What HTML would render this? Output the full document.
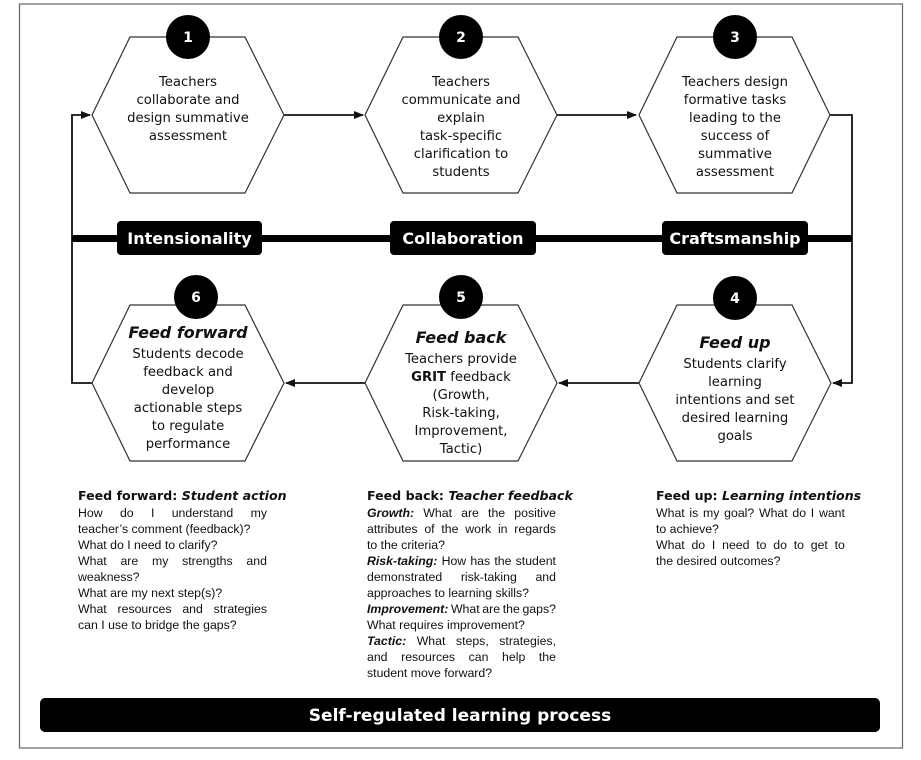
<!DOCTYPE html>
<html><head><meta charset="utf-8"><style>
html,body{margin:0;padding:0;background:#fff;}
body{position:relative;width:921px;height:760px;overflow:hidden}
svg{display:block;font-family:"DejaVu Sans","Liberation Sans",sans-serif;}
.h{fill:#fff;stroke:#333;stroke-width:1.2}
.t{font-size:13.2px;fill:#111;text-anchor:middle}
.n{font-size:14px;fill:#fff;font-weight:bold;text-anchor:middle}
.lb{font-size:16px;fill:#fff;font-weight:bold;text-anchor:middle}
.blk{position:absolute;width:189px;font-family:"Liberation Sans",sans-serif;font-size:12.3px;line-height:16px;color:#111}
.blk .hd{font-family:"DejaVu Sans",sans-serif;font-size:12.6px;font-weight:bold;line-height:16px;white-space:nowrap;margin-bottom:1px}
.blk div{white-space:nowrap}
.blk .j{display:flex;justify-content:space-between}
.bi{font-weight:bold;font-style:italic}
</style></head><body>
<svg width="921" height="760" viewBox="0 0 921 760">
<defs><marker id="a" markerWidth="10" markerHeight="8" refX="9" refY="4" orient="auto" markerUnits="userSpaceOnUse"><path d="M0,0 L10,4 L0,8 Z" fill="#111"/></marker></defs>
<rect x="19.5" y="4" width="883" height="744" fill="#fff" stroke="#666" stroke-width="1.2"/>
<g stroke="#111" stroke-width="1.8" fill="none">
<polyline points="92,383 72,383 72,115 90,115" marker-end="url(#a)"/>
<line x1="284" y1="115" x2="363" y2="115" marker-end="url(#a)"/>
<line x1="557" y1="115" x2="636" y2="115" marker-end="url(#a)"/>
<polyline points="830,115 852,115 852,383 833,383" marker-end="url(#a)"/>
<line x1="639" y1="383" x2="559" y2="383" marker-end="url(#a)"/>
<line x1="365" y1="383" x2="286" y2="383" marker-end="url(#a)"/>
</g>
<rect x="72" y="235" width="780" height="7" fill="#000"/>
<rect x="117" y="221" width="145" height="34" rx="4" fill="#000"/>
<text class="lb" x="189.5" y="244">Intensionality</text>
<rect x="390" y="221" width="146" height="34" rx="4" fill="#000"/>
<text class="lb" x="463" y="244">Collaboration</text>
<rect x="662" y="221" width="146" height="34" rx="4" fill="#000"/>
<text class="lb" x="735" y="244">Craftsmanship</text>
<polygon class="h" points="130,37 245,37 284,115 245,193 130,193 92,115"/>
<polygon class="h" points="403,37 518,37 557,115 518,193 403,193 365,115"/>
<polygon class="h" points="677,37 792,37 830,115 792,193 677,193 639,115"/>
<polygon class="h" points="130,305 245,305 284,383 245,461 130,461 92,383"/>
<polygon class="h" points="403,305 518,305 557,383 518,461 403,461 365,383"/>
<polygon class="h" points="677,305 792,305 831,383 792,461 677,461 639,383"/>
<g fill="#000">
<circle cx="188" cy="37" r="22"/><circle cx="461" cy="37" r="22"/><circle cx="735" cy="37" r="22"/>
<circle cx="196" cy="297" r="22"/><circle cx="461" cy="297" r="22"/><circle cx="735" cy="298" r="22"/>
</g>
<text class="n" x="188" y="42">1</text><text class="n" x="461" y="42">2</text><text class="n" x="735" y="42">3</text>
<text class="n" x="196" y="302">6</text><text class="n" x="461" y="302">5</text><text class="n" x="735" y="303">4</text>
<text class="t" x="188" y="86">Teachers</text>
<text class="t" x="188" y="104">collaborate and</text>
<text class="t" x="188" y="122">design summative</text>
<text class="t" x="188" y="140">assessment</text>
<text class="t" x="461" y="86">Teachers</text>
<text class="t" x="461" y="104">communicate and</text>
<text class="t" x="461" y="122">explain</text>
<text class="t" x="461" y="140">task-specific</text>
<text class="t" x="461" y="158">clarification to</text>
<text class="t" x="461" y="176">students</text>
<text class="t" x="735" y="86">Teachers design</text>
<text class="t" x="735" y="104">formative tasks</text>
<text class="t" x="735" y="122">leading to the</text>
<text class="t" x="735" y="140">success of</text>
<text class="t" x="735" y="158">summative</text>
<text class="t" x="735" y="176">assessment</text>
<text class="t" x="188" y="338" style="font-size:16px;font-weight:bold;font-style:italic">Feed forward</text>
<text class="t" x="188" y="358">Students decode</text>
<text class="t" x="188" y="376">feedback and</text>
<text class="t" x="188" y="394">develop</text>
<text class="t" x="188" y="412">actionable steps</text>
<text class="t" x="188" y="430">to regulate</text>
<text class="t" x="188" y="448">performance</text>
<text class="t" x="461" y="343" style="font-size:16px;font-weight:bold;font-style:italic">Feed back</text>
<text class="t" x="461" y="363">Teachers provide</text>
<text class="t" x="461" y="381"><tspan font-weight="bold">GRIT</tspan> feedback</text>
<text class="t" x="461" y="399">(Growth,</text>
<text class="t" x="461" y="417">Risk-taking,</text>
<text class="t" x="461" y="435">Improvement,</text>
<text class="t" x="461" y="453">Tactic)</text>
<text class="t" x="735" y="348" style="font-size:16px;font-weight:bold;font-style:italic">Feed up</text>
<text class="t" x="735" y="368">Students clarify</text>
<text class="t" x="735" y="386">learning</text>
<text class="t" x="735" y="404">intentions and set</text>
<text class="t" x="735" y="422">desired learning</text>
<text class="t" x="735" y="440">goals</text>
<rect x="40" y="698" width="840" height="34" rx="5" fill="#000"/>
<text x="460" y="721" text-anchor="middle" style="font-size:17px;font-weight:bold;fill:#fff">Self-regulated learning process</text>
</svg>
<div class="blk" style="left:78px;top:488px">
<div class="hd">Feed forward: <i>Student action</i></div>
<div class="j"><span>How</span><span>do</span><span>I</span><span>understand</span><span>my</span></div>
<div>teacher’s comment (feedback)?</div>
<div>What do I need to clarify?</div>
<div class="j"><span>What</span><span>are</span><span>my</span><span>strengths</span><span>and</span></div>
<div>weakness?</div>
<div>What are my next step(s)?</div>
<div class="j"><span>What</span><span>resources</span><span>and</span><span>strategies</span></div>
<div>can I use to bridge the gaps?</div>
</div>
<div class="blk" style="left:367px;top:488px">
<div class="hd">Feed back: <i>Teacher feedback</i></div>
<div class="j"><span class="bi">Growth:</span><span>What</span><span>are</span><span>the</span><span>positive</span></div>
<div class="j"><span>attributes</span><span>of</span><span>the</span><span>work</span><span>in</span><span>regards</span></div>
<div>to the criteria?</div>
<div class="j"><span class="bi">Risk-taking:</span><span>How</span><span>has</span><span>the</span><span>student</span></div>
<div class="j"><span>demonstrated</span><span>risk-taking</span><span>and</span></div>
<div>approaches to learning skills?</div>
<div class="j"><span class="bi">Improvement:</span><span>What</span><span>are</span><span>the</span><span>gaps?</span></div>
<div>What requires improvement?</div>
<div class="j"><span class="bi">Tactic:</span><span>What</span><span>steps,</span><span>strategies,</span></div>
<div class="j"><span>and</span><span>resources</span><span>can</span><span>help</span><span>the</span></div>
<div>student move forward?</div>
</div>
<div class="blk" style="left:656px;top:488px">
<div class="hd">Feed up: <i>Learning intentions</i></div>
<div class="j"><span>What</span><span>is</span><span>my</span><span>goal?</span><span>What</span><span>do</span><span>I</span><span>want</span></div>
<div>to achieve?</div>
<div class="j"><span>What</span><span>do</span><span>I</span><span>need</span><span>to</span><span>do</span><span>to</span><span>get</span><span>to</span></div>
<div>the desired outcomes?</div>
</div>
</body></html>
